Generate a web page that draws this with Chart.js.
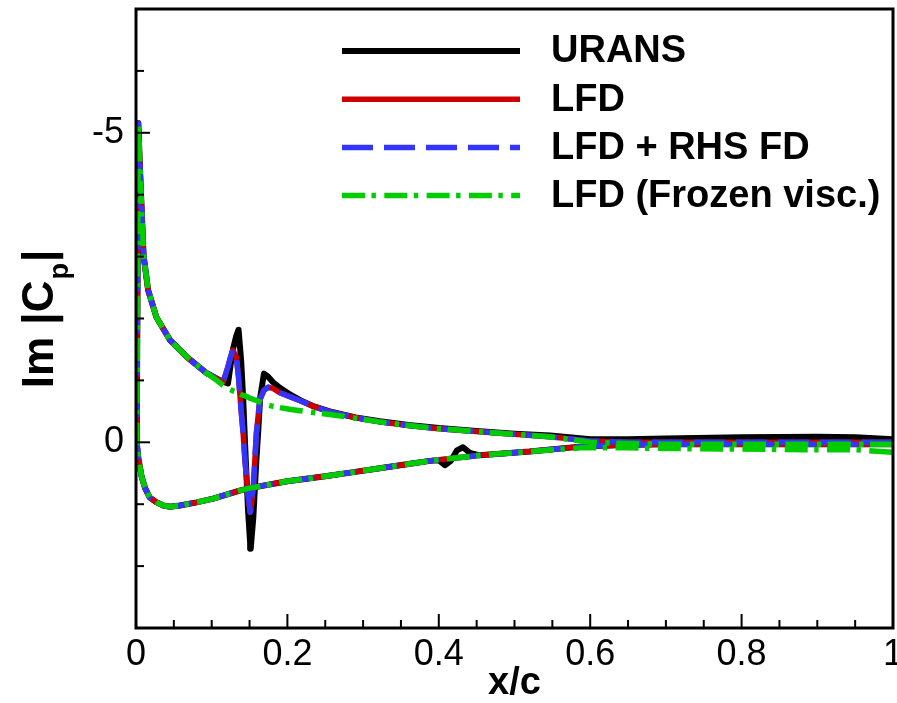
<!DOCTYPE html>
<html><head><meta charset="utf-8">
<script src="https://cdn.jsdelivr.net/npm/chart.js@4.4.0/dist/chart.umd.min.js"></script>
<style>html,body{margin:0;padding:0;background:#fff;overflow:hidden}</style>
</head><body>
<canvas id="c" width="897" height="703"></canvas>
<script>
// ---- data ----
const seriesLabels = ['URANS', 'LFD', 'LFD + RHS FD', 'LFD (Frozen visc.)'];
const xTickLabels = ['0', '0.2', '0.4', '0.6', '0.8', '1'];
const yTickLabels = ['-5', '0'];

const xUpper = [0.003, 0.005, 0.0075, 0.01, 0.016, 0.027, 0.045, 0.067, 0.093, 0.108, 0.115, 0.1215, 0.125, 0.128, 0.1325, 0.1355, 0.139, 0.1415, 0.144, 0.148, 0.1508, 0.1515, 0.155, 0.159, 0.1616, 0.164, 0.169, 0.1745, 0.181, 0.19, 0.205, 0.217, 0.235, 0.256, 0.29, 0.322, 0.36, 0.4, 0.454, 0.5, 0.547, 0.6, 0.65, 0.7, 0.8, 0.9, 0.95, 1.0];
const uransUpper = [-5.16, -4.5, -3.75, -3.02, -2.46, -2.02, -1.65, -1.38, -1.12, -1.02, -0.98, -0.95, -1.25, -1.5, -1.72, -1.82, -1.3, -0.73, 0.0, 1.1, 1.63, 1.72, 1.21, 0.29, -0.2, -0.72, -1.11, -1.06, -0.97, -0.88, -0.76, -0.68, -0.58, -0.5, -0.4, -0.34, -0.28, -0.23, -0.18, -0.14, -0.11, -0.05, -0.05, -0.06, -0.08, -0.09, -0.08, -0.05];
const lfdUpper = [-5.16, -4.5, -3.75, -3.02, -2.46, -2.02, -1.65, -1.38, -1.12, -1.02, -0.97, -1.22, -1.38, -1.49, -1.38, -1.05, -0.5, -0.15, 0.3, 0.85, 1.13, 1.1, 0.73, -0.14, -0.45, -0.7, -0.84, -0.89, -0.87, -0.8, -0.73, -0.67, -0.58, -0.49, -0.4, -0.33, -0.27, -0.22, -0.17, -0.13, -0.09, -0.02, 0.0, 0.0, 0.0, 0.0, 0.0, 0.0];
const rhsUpper = [-5.16, -4.5, -3.75, -3.02, -2.46, -2.02, -1.65, -1.38, -1.12, -1.02, -0.97, -1.22, -1.38, -1.49, -1.38, -1.05, -0.5, -0.15, 0.3, 0.85, 1.13, 1.1, 0.73, -0.14, -0.45, -0.7, -0.84, -0.89, -0.87, -0.8, -0.73, -0.67, -0.58, -0.49, -0.4, -0.33, -0.27, -0.22, -0.17, -0.13, -0.09, -0.02, 0.0, 0.0, 0.0, 0.0, 0.0, 0.0];
const frozenUpper = [-5.16, -4.5, -3.75, -3.02, -2.46, -2.02, -1.65, -1.38, -1.12, -0.99, -0.92, -0.87, -0.85, -0.83, -0.81, -0.79, -0.77, -0.76, -0.75, -0.73, -0.71, -0.71, -0.69, -0.68, -0.66, -0.65, -0.62, -0.6, -0.58, -0.56, -0.53, -0.51, -0.48, -0.45, -0.39, -0.33, -0.27, -0.22, -0.17, -0.13, -0.09, 0.0, 0.02, 0.03, 0.03, 0.03, 0.03, 0.03];

const xLower = [0.001, 0.003, 0.0075, 0.012, 0.018, 0.027, 0.036, 0.045, 0.058, 0.08, 0.102, 0.137, 0.15, 0.2, 0.25, 0.283, 0.322, 0.36, 0.388, 0.4, 0.408, 0.416, 0.424, 0.432, 0.441, 0.454, 0.52, 0.587, 0.65, 0.7, 0.8, 0.9, 0.95, 1.0];
const uransLower = [0.0, 0.25, 0.56, 0.74, 0.89, 0.97, 1.02, 1.04, 1.02, 0.97, 0.91, 0.78, 0.74, 0.63, 0.55, 0.49, 0.42, 0.35, 0.3, 0.29, 0.37, 0.3, 0.13, 0.08, 0.17, 0.21, 0.15, 0.07, 0.04, 0.03, 0.03, 0.03, 0.03, 0.03];
const lfdLower = [0.0, 0.25, 0.56, 0.74, 0.89, 0.97, 1.02, 1.04, 1.02, 0.97, 0.91, 0.78, 0.74, 0.63, 0.55, 0.49, 0.42, 0.35, 0.3, 0.28, 0.27, 0.26, 0.25, 0.24, 0.23, 0.21, 0.15, 0.07, 0.04, 0.03, 0.03, 0.03, 0.03, 0.03];
const rhsLower = [0.0, 0.25, 0.56, 0.74, 0.89, 0.97, 1.02, 1.04, 1.02, 0.97, 0.91, 0.78, 0.74, 0.63, 0.55, 0.49, 0.42, 0.35, 0.3, 0.28, 0.27, 0.26, 0.25, 0.24, 0.23, 0.21, 0.15, 0.07, 0.04, 0.03, 0.03, 0.03, 0.03, 0.03];
const frozenLower = [0.0, 0.25, 0.56, 0.74, 0.89, 0.97, 1.02, 1.04, 1.02, 0.97, 0.91, 0.78, 0.74, 0.63, 0.55, 0.49, 0.42, 0.35, 0.3, 0.28, 0.27, 0.26, 0.25, 0.24, 0.23, 0.21, 0.15, 0.09, 0.09, 0.1, 0.11, 0.12, 0.12, 0.16];

// ---- build ----
const FONT = "'Liberation Sans', Arial, Helvetica, sans-serif";
function loop(xu, yu, xl, yl) {
  const pts = [];
  for (let i = xu.length - 1; i >= 0; i--) pts.push({x: xu[i], y: yu[i]});
  for (let i = 0; i < xl.length; i++) pts.push({x: xl[i], y: yl[i]});
  return pts;
}
const common = {pointRadius: 0, fill: false, tension: 0, borderCapStyle: 'butt', borderJoinStyle: 'round'};
const datasets = [
  Object.assign({label: seriesLabels[0], data: loop(xUpper, uransUpper, xLower, uransLower), borderColor: '#000000', borderWidth: 6, order: 3}, common),
  Object.assign({label: seriesLabels[1], data: loop(xUpper, lfdUpper, xLower, lfdLower), borderColor: '#cc0000', borderWidth: 5.5, order: 2}, common),
  Object.assign({label: seriesLabels[2], data: loop(xUpper, rhsUpper, xLower, rhsLower), borderColor: '#3434ff', borderWidth: 5.5, borderDash: [31, 11], order: 1}, common),
  Object.assign({label: seriesLabels[3], data: loop(xUpper, frozenUpper, xLower, frozenLower), borderColor: '#00cc00', borderWidth: 5.5, borderDash: [23, 6.5, 4.4, 8.4], order: 0}, common)
];

function noPad(s) { s.paddingTop = 0; s.paddingBottom = 0; s.paddingLeft = 0; s.paddingRight = 0; }

const decor = {
  id: 'decor',
  afterDraw(chart) {
    const ctx = chart.ctx, a = chart.chartArea;
    const xs = chart.scales.x, ys = chart.scales.y;
    ctx.save();
    // frame
    ctx.strokeStyle = '#000'; ctx.lineWidth = 3; ctx.setLineDash([]);
    ctx.strokeRect(a.left, a.top, a.right - a.left, a.bottom - a.top);
    // inward ticks
    ctx.lineWidth = 2;
    xs.ticks.forEach(t => {
      const r = t.value / 0.2, major = Math.abs(r - Math.round(r)) < 1e-6;
      const px = xs.getPixelForValue(t.value);
      ctx.beginPath(); ctx.moveTo(px, a.bottom); ctx.lineTo(px, a.bottom - (major ? 14 : 8)); ctx.stroke();
    });
    ys.ticks.forEach(t => {
      const major = yTickLabels.includes(String(t.value));
      const py = ys.getPixelForValue(t.value);
      ctx.beginPath(); ctx.moveTo(a.left, py); ctx.lineTo(a.left + (major ? 14 : 8), py); ctx.stroke();
    });
    // legend
    chart.data.datasets.forEach((ds, i) => {
      const y = 51 + i * 48.2;
      ctx.strokeStyle = ds.borderColor; ctx.lineWidth = ds.borderWidth;
      ctx.lineCap = 'butt'; ctx.setLineDash(ds.borderDash || []);
      ctx.beginPath(); ctx.moveTo(342, y); ctx.lineTo(520, y); ctx.stroke();
      ctx.setLineDash([]);
      ctx.fillStyle = '#000'; ctx.font = 'bold 38px ' + FONT;
      ctx.textBaseline = 'middle'; ctx.textAlign = 'left';
      ctx.fillText(ds.label, 551, y + 1);
    });
    // y-axis title with subscript
    ctx.translate(53, 319);
    ctx.rotate(-Math.PI / 2);
    ctx.textBaseline = 'alphabetic'; ctx.textAlign = 'left'; ctx.fillStyle = '#000';
    const big = 'bold 44px ' + FONT, small = 'bold 27px ' + FONT;
    ctx.font = big; const w1 = ctx.measureText('Im |C').width, w3 = ctx.measureText('|').width;
    ctx.font = small; const w2 = ctx.measureText('p').width;
    const W = w1 + w2 + w3 + 2;
    let x0 = -W / 2;
    ctx.font = big; ctx.fillText('Im |C', x0, 0);
    ctx.font = small; ctx.fillText('p', x0 + w1 + 1, 15);
    ctx.font = big; ctx.fillText('|', x0 + w1 + w2 + 2, 0);
    ctx.restore();
  }
};

new Chart(document.getElementById('c'), {
  type: 'line',
  data: {datasets},
  options: {
    responsive: false, animation: false, events: [],
    layout: {autoPadding: false, padding: {left: 0, top: 9, right: 4, bottom: 0}},
    plugins: {legend: {display: false}, tooltip: {enabled: false}},
    scales: {
      x: {
        type: 'linear', min: 0, max: 1,
        grid: {display: false, drawTicks: false}, border: {display: false},
        ticks: {
          stepSize: 0.05, autoSkip: false, maxRotation: 0, padding: 5, color: '#000',
          font: {size: 36, family: FONT},
          callback(v) { const r = v / 0.2; return Math.abs(r - Math.round(r)) < 1e-6 ? xTickLabels[Math.round(r)] : ''; }
        },
        title: {display: true, text: 'x/c', color: '#000', padding: 0, font: {size: 38, weight: 'bold', family: FONT, lineHeight: 1}},
        afterFit(s) { s.height = 75; noPad(s); }
      },
      y: {
        type: 'linear', min: -7, max: 3, reverse: true,
        grid: {display: false, drawTicks: false}, border: {display: false},
        ticks: {
          stepSize: 1, autoSkip: false, padding: 12, color: '#000',
          font: {size: 36, family: FONT},
          callback(v) { return yTickLabels.includes(String(v)) ? String(v) : ''; }
        },
        afterFit(s) { s.width = 136; noPad(s); }
      }
    }
  },
  plugins: [decor]
});
</script>
</body></html>
